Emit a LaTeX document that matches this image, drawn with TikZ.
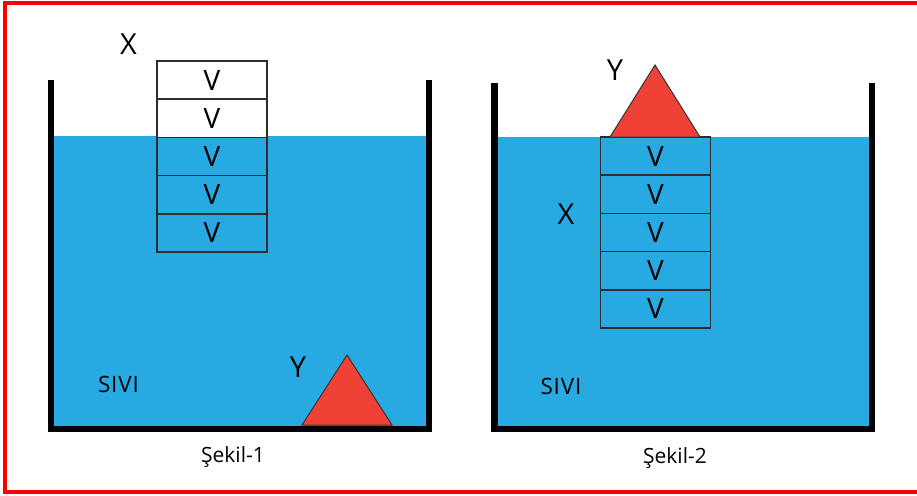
\documentclass[tikz,border=0pt]{standalone}
\usepackage{fontspec}
\setmainfont{Open Sans}
\definecolor{water}{RGB}{39,169,225}
\definecolor{tri}{RGB}{239,65,54}
\definecolor{frame}{RGB}{255,0,0}
\definecolor{edge}{RGB}{45,45,45}
\begin{document}
\begin{tikzpicture}[x=1pt,y=-1pt,
  wall/.style={line width=6.5pt,black,line join=miter},
  blk/.style={draw=edge,line width=1.6pt,minimum width=110pt,minimum height=38.2pt,inner sep=0pt,outer sep=0pt,font=\fontsize{28}{28}\selectfont},
  wblk/.style={blk,fill=white},
  bblk/.style={blk,fill=water},
  trishape/.style={fill=tri,draw=black!80,line width=1pt,line join=miter},
  big/.style={inner sep=0pt,anchor=base,font=\fontsize{29}{29}\selectfont},
  small/.style={inner sep=0pt,anchor=base,font=\fontsize{21}{21}\selectfont},
  liq/.style={inner sep=0pt,anchor=base,font=\fontsize{22.5}{22.5}\selectfont\addfontfeature{LetterSpace=4}}]
\useasboundingbox (0,0) rectangle (917,495);
\draw[frame,line width=4pt] (5,3) rectangle (925,492);
% containers: water
\fill[water] (54,136) rectangle (426,426);
\fill[water] (497,137) rectangle (869,426);
% walls
\draw[wall] (51,80) -- (51,429) -- (429,429) -- (429,80);
\draw[wall] (494.5,83) -- (494.5,429) -- (872,429) -- (872,83);
% Sekil-1 blocks
\node[wblk] (a1) at (212,80.1) {V};
\node[wblk] (a2) at (212,118.3) {V};
\node[bblk] (a3) at (212,156.5) {V};
\node[bblk] (a4) at (212,194.7) {V};
\node[bblk] (a5) at (212,232.9) {V};
% Sekil-2 blocks
\node[bblk] (b1) at (655.5,156.1) {V};
\node[bblk] (b2) at (655.5,194.3) {V};
\node[bblk] (b3) at (655.5,232.5) {V};
\node[bblk] (b4) at (655.5,270.7) {V};
\node[bblk] (b5) at (655.5,308.9) {V};
% triangles
\draw[trishape] (302,425) -- (347,355) -- (392,425) -- cycle;
\draw[trishape] (610,137) -- (655,65) -- (700,137) -- cycle;
% labels
\node[big] (xl) at (128.5,55) {X};
\node[big] (xr) at (566,224) {X};
\node[big] (yl) at (298,377) {Y};
\node[big] (yr) at (615,80) {Y};
\node[liq] (s1) at (118.5,392) {SIVI};
\node[liq] (s2) at (561,394) {SIVI};
\node[small] (c1) at (233,462) {Şekil-1};
\node[small] (c2) at (675,463) {Şekil-2};
\end{tikzpicture}
\end{document}
